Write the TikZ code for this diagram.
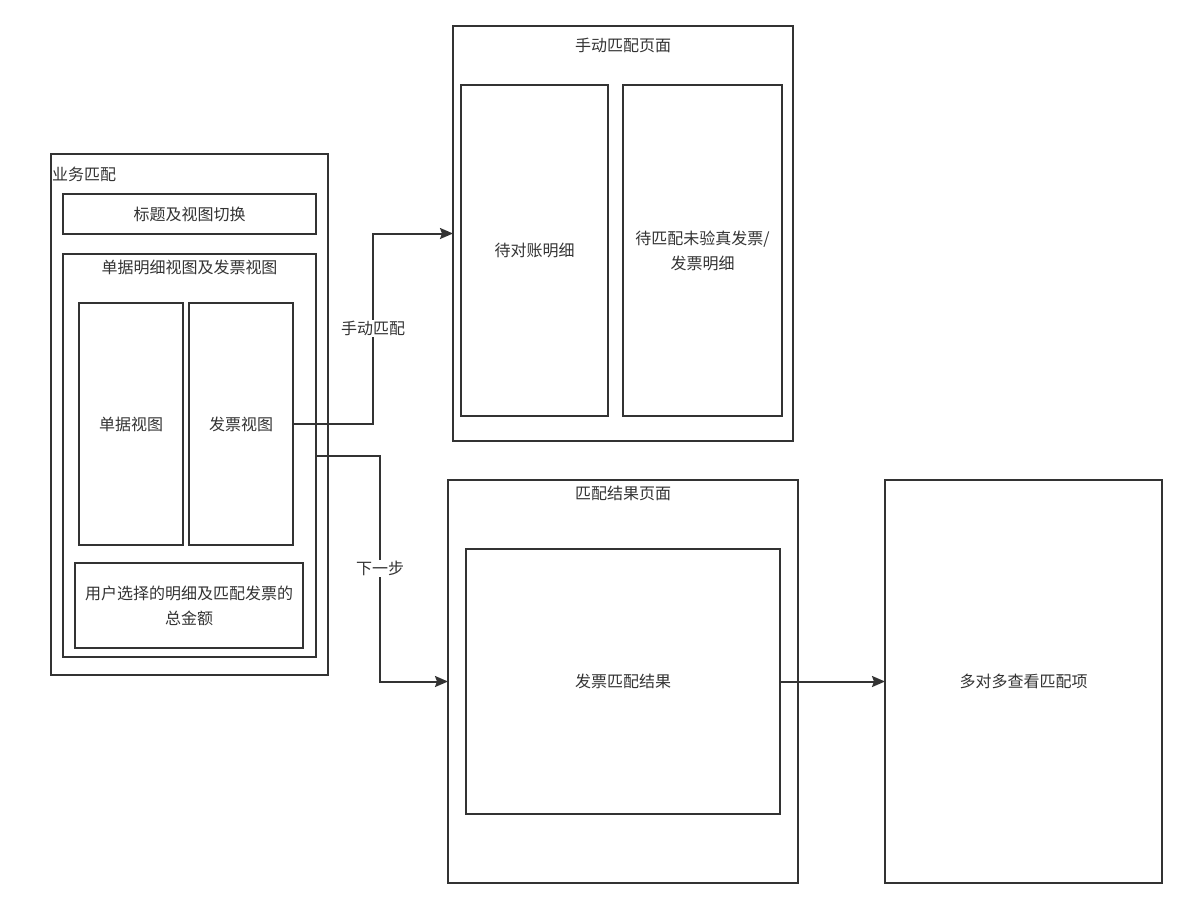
\documentclass[tikz,border=0pt]{standalone}
\usepackage{fontspec}
\setmainfont{Noto Sans CJK SC}
\usetikzlibrary{arrows.meta}
\definecolor{linegray}{HTML}{333333}
\tikzset{
  box/.style={draw=linegray, line width=2pt, inner sep=0, outer sep=0,
              anchor=north west, align=center, text=linegray},
  lbl/.style={text=linegray, inner sep=1pt},
  flow/.style={draw=linegray, line width=2pt,
               -{Stealth[length=13pt, width=11pt, inset=2pt]}}
}
\newcommand{\boxat}[6]{% name, x, y, w, h, text
  \node[box, minimum width=#4, minimum height=#5] (#1) at (#2,#3) {#6};}
\begin{document}
\begin{tikzpicture}[x=1pt, y=-1pt, font=\fontsize{16}{25}\selectfont]
\useasboundingbox (0,0) rectangle (1187,908);
% left page
\boxat{biz}{51}{154}{277}{521}{}
\node[lbl, anchor=west] (biztitle) at (51,174) {业务匹配};
\boxat{titlebar}{63}{194}{253}{40}{标题及视图切换}
\boxat{detail}{63}{254}{253}{403}{}
\node[lbl] (detailtitle) at (189.5,267) {单据明细视图及发票视图};
\boxat{billview}{79}{303}{104}{242}{单据视图}
\boxat{fpview}{189}{303}{104}{242}{发票视图}
\boxat{total}{75}{563}{228}{85}{用户选择的明细及匹配发票的\\总金额}
% manual matching page
\boxat{manual}{453}{26}{340}{415}{}
\node[lbl] (manualtitle) at (623,45) {手动匹配页面};
\boxat{pending}{461}{85}{147}{331}{待对账明细}
\boxat{invoice}{623}{85}{159}{331}{待匹配未验真发票/\\发票明细}
% result page
\boxat{result}{448}{480}{350}{403}{}
\node[lbl] (resulttitle) at (623,493) {匹配结果页面};
\boxat{resinner}{466}{549}{314}{265}{发票匹配结果}
\boxat{many}{885}{480}{277}{403}{多对多查看匹配项}
% connectors
\draw[flow] (fpview.east) -- ++(80,0) |- (manual.west)
  node[lbl, pos=0.25, fill=white] {手动匹配};
\draw[flow] (detail.east) -- ++(64,0) |- (result.west)
  node[lbl, pos=0.25, fill=white] {下一步};
\draw[flow] (resinner.east) -- (many.west);
\end{tikzpicture}
\end{document}
